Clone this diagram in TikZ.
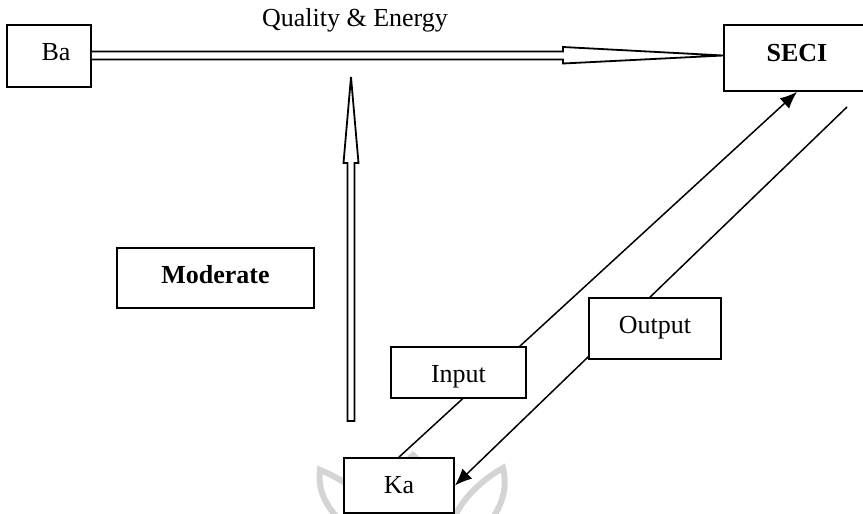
\documentclass[tikz,border=0pt]{standalone}
\usepackage{fontspec}
\setmainfont{Liberation Serif}
\usetikzlibrary{arrows.meta,calc}
\pgfdeclarelayer{wm}
\pgfdeclarelayer{background}
\pgfsetlayers{wm,background,main}
\begin{document}
\begin{tikzpicture}[x=1pt,y=-1pt,
  every node/.style={font=\fontsize{26}{30}\selectfont},
  box/.style={draw,line width=1.8pt,fill=white,inner sep=0pt,text height=18pt},
  conn/.style={line width=1.5pt,-{Latex[length=17pt,width=14pt]}},
  hollow/.style={line width=1.8pt,line join=miter,fill=white},
  wmark/.style={black!17,line width=6pt,line cap=round}]
\useasboundingbox (0,0) rectangle (863,514);
\clip (0,0) rectangle (863,514);

% nodes
\node[box,minimum width=84pt,minimum height=62pt,text depth=10pt] (Ba) at (49,56) {\hspace*{14pt}Ba};
\node[box,minimum width=146pt,minimum height=66pt,text depth=12pt] (SECI) at (797,58) {\textbf{SECI}};
\node[box,minimum width=197pt,minimum height=60pt,text depth=8pt] (Mod) at (215.5,278) {\textbf{Moderate}};
\node[box,minimum width=135pt,minimum height=51pt,text height=20pt,text depth=1pt] (In) at (458.5,372.5) {Input};
\node[box,minimum width=132pt,minimum height=61pt,text depth=9pt] (Out) at (655,328.5) {Output};
\node[box,minimum width=110pt,minimum height=55pt,text depth=3pt] (Ka) at (399,485.5) {Ka};
\node[anchor=base] (QE) at (355,27) {Quality \& Energy};
\coordinate (OutStart) at (847,107);

% watermark
\begin{pgfonlayer}{wm}
\draw[wmark] (336,516) .. controls (322,500) and (318,485) .. (320,470)
  .. controls (345,480) and (365,495) .. (372,516);
\draw[wmark] (392,516) .. controls (395,485) and (402,465) .. (413,455)
  .. controls (425,465) and (433,485) .. (436,516);
\draw[wmark] (455,516) .. controls (465,495) and (485,478) .. (503,468)
  .. controls (507,485) and (504,500) .. (494,516);
\end{pgfonlayer}

% connectors
\begin{pgfonlayer}{background}
\draw[conn] (Ka.north) -- (SECI.south);
\draw[conn] (OutStart) -- (Ka.east);
\end{pgfonlayer}

% double arrow Ba -> SECI
\draw[hollow] (Ba.east |- 0,51.5) -- (563,51.5) -- (563,47) -- (SECI.west |- 0,55.5)
  -- (563,63.5) -- (563,59.5) -- (Ba.east |- 0,59.5);

% upward hollow arrow
\draw[hollow] (347.5,421) -- (347.5,163) -- (343.5,163) -- (351,77) -- (358.5,163)
  -- (354.5,163) -- (354.5,421) -- cycle;
\end{tikzpicture}
\end{document}
